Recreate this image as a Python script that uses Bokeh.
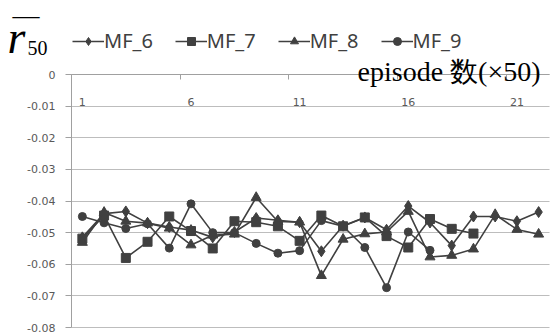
from bokeh.plotting import figure
from bokeh.models import (ColumnDataSource, Legend, LegendItem, Label, FixedTicker,
                          Range1d, CustomJSTickFormatter)
from bokeh.core.properties import value
from bokeh.embed import file_html
from bokeh.resources import INLINE

# ---------------- data ----------------
series_names = ["MF_6", "MF_7", "MF_8", "MF_9"]
mf6 = [-0.0515, -0.0440, -0.0433, -0.0470, -0.0482, -0.0492, -0.0515, -0.0498, -0.0454, -0.0461, -0.0467,
       -0.0559, -0.0478, -0.0452, -0.0491, -0.0416, -0.0468, -0.0541, -0.0449, -0.0449, -0.0464, -0.0435]
mf7 = [-0.0519, -0.0446, -0.0580, -0.0529, -0.0449, -0.0495, -0.0550, -0.0464, -0.0467, -0.0480, -0.0526,
       -0.0446, -0.0480, -0.0452, -0.0511, -0.0547, -0.0457, -0.0488, -0.0503]
mf8 = [-0.0531, -0.0436, -0.0464, -0.0470, -0.0486, -0.0539, -0.0508, -0.0505, -0.0389, -0.0465, -0.0467,
       -0.0636, -0.0521, -0.0504, -0.0498, -0.0433, -0.0577, -0.0572, -0.0552, -0.0443, -0.0490, -0.0505]
mf9 = [-0.0449, -0.0469, -0.0487, -0.0472, -0.0549, -0.0409, -0.0500, -0.0500, -0.0534, -0.0565, -0.0557,
       -0.0462, -0.0480, -0.0547, -0.0674, -0.0498, -0.0556]
markers = ["diamond", "square", "triangle", "circle"]
x_tick_labels = [1, 6, 11, 16, 21]
y_ticks = [0, -0.01, -0.02, -0.03, -0.04, -0.05, -0.06, -0.07, -0.08]
x_title = "episode 数(×50)"
n_episodes = 22

C = "#404040"
GRID = "#bdbdbd"
AX = "#a0a0a0"

W, H = 550, 336
# plotting area in pixels (left, right, top, bottom) – the frame itself covers the whole canvas
PL, PR, PT, PB = 71, 549, 74, 327
x0, x1 = 0.5, n_episodes + 0.5
y_top, y_bot = y_ticks[0], y_ticks[-1]
sx = (PR - PL) / (x1 - x0)
sy = (PT - PB) / (y_top - y_bot)
x_range = Range1d(x0 - PL / sx, x1 + (W - PR) / sx)
y_range = Range1d(y_bot - (H - PB) / -sy, y_top + PT / -sy)

p = figure(width=W, height=H, output_backend="svg", toolbar_location=None,
           x_range=x_range, y_range=y_range,
           min_border=0, min_border_left=0, min_border_right=0, min_border_top=0, min_border_bottom=0)
p.outline_line_color = None
p.background_fill_color = "white"
p.border_fill_color = "white"

# y axis drawn at the left edge of the category band
p.yaxis.fixed_location = x0
p.yaxis.bounds = (y_bot, y_top)
p.yaxis.ticker = FixedTicker(ticks=y_ticks)
p.yaxis.formatter = CustomJSTickFormatter(code="return Math.abs(tick) < 1e-9 ? '0' : tick.toFixed(2);")
p.yaxis.axis_line_color = AX
p.yaxis.major_tick_line_color = AX
p.yaxis.major_tick_in = 0
p.yaxis.major_tick_out = 6
p.yaxis.minor_tick_line_color = None
p.yaxis.major_label_standoff = 10
p.yaxis.major_label_text_font = "DejaVu Sans"
p.yaxis.major_label_text_font_size = "11px"
p.yaxis.major_label_text_color = "#595959"

# x axis drawn at y = 0 (top of the plotting area), labels below the line
p.xaxis.fixed_location = y_top
p.xaxis.bounds = (x0, x1)
p.xaxis.ticker = FixedTicker(ticks=x_tick_labels, minor_ticks=[t - 0.5 for t in x_tick_labels])
p.xaxis.axis_line_color = AX
p.xaxis.major_tick_line_color = None
p.xaxis.major_tick_in = 0
p.xaxis.major_tick_out = 0
p.xaxis.minor_tick_line_color = AX
p.xaxis.minor_tick_in = 0
p.xaxis.minor_tick_out = 5
p.xaxis.major_label_standoff = 18
p.xaxis.major_label_text_font = "DejaVu Sans"
p.xaxis.major_label_text_font_size = "11px"
p.xaxis.major_label_text_color = "#595959"

p.xgrid.visible = False
p.ygrid.ticker = FixedTicker(ticks=y_ticks)
p.ygrid.grid_line_color = GRID
p.ygrid.grid_line_width = 1
if "cross_bounds" in p.ygrid[0].properties():
    p.ygrid.cross_bounds = (x0, x1)
else:
    p.ygrid.visible = False
    p.segment(x0=[x0] * len(y_ticks), x1=[x1] * len(y_ticks), y0=y_ticks, y1=y_ticks,
              line_color=GRID, line_width=1)

items = []
for name, vals, mk in zip(series_names, [mf6, mf7, mf8, mf9], markers):
    src = ColumnDataSource(dict(x=list(range(1, len(vals) + 1)), y=vals))
    lr = p.line("x", "y", source=src, line_color=C, line_width=1.6)
    size = {"diamond": 11, "square": 9, "triangle": 10, "circle": 8}[mk]
    sr = p.scatter("x", "y", source=src, marker=mk, size=size, fill_color=C, line_color=C)
    items.append(LegendItem(label=name, renderers=[lr, sr]))

legend = Legend(items=items, orientation="horizontal", location=(72, 282),
                glyph_width=32, glyph_height=20, label_standoff=0, spacing=22,
                padding=0, margin=0, border_line_color=None, background_fill_alpha=0,
                label_text_font="Noto Sans", label_text_font_size="20px", label_text_color=C,
                label_height=20)
p.add_layout(legend, "center")

# axis title
p.add_layout(Label(x=540, y=H - 71, x_units="screen", y_units="screen", text=x_title,
                   text_align="right", text_baseline="alphabetic",
                   text_font="Liberation Serif", text_font_size="28px", text_color="#000000"))

# y label: r-bar with subscript 50
p.add_layout(Label(x=7, y=H - 37, x_units="screen", y_units="screen", text="r",
                   text_align="left", text_baseline="alphabetic", text_font_style="italic",
                   text_font="Liberation Serif", text_font_size="46px", text_color="#000000"))
p.add_layout(Label(x=27, y=H - 47, x_units="screen", y_units="screen", text="50",
                   text_align="left", text_baseline="alphabetic",
                   text_font="Liberation Serif", text_font_size="20px", text_color="#000000"))
p.add_layout(Label(x=12, y=H - 14.5, x_units="screen", y_units="screen", text="—",
                   text_align="left", text_baseline="alphabetic",
                   text_font="Liberation Serif", text_font_size="27px", text_color="#000000"))

open("out.html", "w").write(file_html(p, INLINE))
